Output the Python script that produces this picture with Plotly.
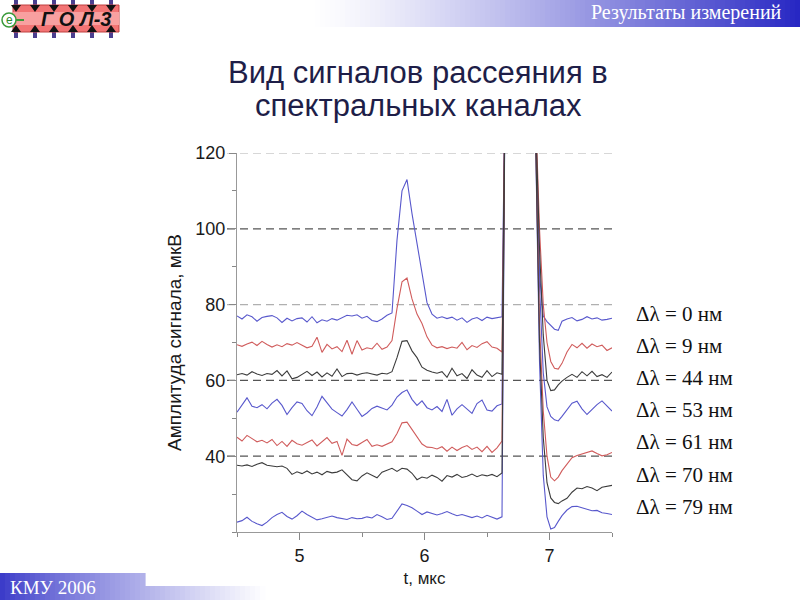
import plotly.graph_objects as go

# ---------------- data ----------------
T = [4.50, 4.54, 4.58, 4.62, 4.66, 4.70, 4.74, 4.78, 4.82, 4.86,
     4.90, 4.94, 4.98, 5.02, 5.06, 5.10, 5.14, 5.18, 5.22, 5.26,
     5.30, 5.34, 5.38, 5.42, 5.46, 5.50, 5.54, 5.58, 5.62, 5.66,
     5.70, 5.74, 5.78, 5.82, 5.86, 5.90, 5.94, 5.98, 6.02, 6.06,
     6.10, 6.14, 6.18, 6.22, 6.26, 6.30, 6.34, 6.38, 6.42, 6.46,
     6.50, 6.54, 6.58,
     6.62, 6.645, 6.88,
     6.92, 6.95, 6.98, 7.01, 7.04, 7.07, 7.10, 7.14, 7.18, 7.22,
     7.26, 7.30, 7.34, 7.38, 7.42, 7.46, 7.50]

S_0 = [77.0, 76.2, 77.3, 76.8, 75.6, 76.6, 76.9, 77.1, 76.5, 75.3,
       76.4, 75.7, 76.3, 76.5, 75.4, 76.8, 75.2, 76.0, 75.6, 76.3,
       75.9, 76.6, 77.2, 77.0, 77.3, 76.4, 76.9, 75.8, 75.5, 76.2,
       77.2, 77.8, 97.0, 110.0, 113.0, 104.0, 96.0, 88.0, 80.5, 77.5,
       76.4, 76.8, 76.3, 76.7, 75.9, 76.5, 75.3, 76.2, 76.6, 75.8,
       76.7, 76.3, 76.5,
       76.8, 140, 140,
       88, 77, 75.5, 74.5, 73.5, 73.2, 75.6, 76.2, 76.6, 75.7,
       76.1, 76.8, 76.2, 76.5, 75.9, 76.1, 76.4]

S_9 = [69.4, 69.0, 69.6, 70.1, 69.2, 70.3, 69.5, 68.8, 69.4, 68.9,
       69.7, 69.3, 70.0, 69.2, 68.6, 69.0, 71.4, 67.4, 69.5, 68.3,
       68.9, 67.6, 70.6, 66.9, 70.5, 68.0, 68.6, 68.3, 69.8, 68.2,
       68.8, 70.5, 79.0, 86.0, 87.0, 81.5, 77.5, 75.0, 71.5, 69.3,
       68.6, 68.9, 68.4, 68.8, 68.5, 70.0, 68.1, 69.2, 68.7, 69.7,
       70.2, 68.8, 68.5,
       67.5, 140, 140,
       100, 80, 70, 65, 63.2, 63.0, 64.5, 67.5, 69.5, 68.6,
       69.8, 68.5, 69.6, 68.9, 69.3, 67.9, 68.6]

S_44 = [61.5, 61.8, 61.4, 62.3, 61.7, 61.3, 61.8, 61.6, 62.6, 61.2,
        62.5, 60.4, 60.8, 61.6, 62.4, 61.3, 62.2, 60.9, 62.0, 61.1,
        63.0, 61.0, 61.8, 61.9, 61.4, 61.8, 62.0, 61.7, 61.4, 61.9,
        61.7, 62.3, 66.0, 70.3, 70.5, 67.8, 66.0, 63.5, 62.7, 62.2,
        61.9, 62.3, 60.8, 63.2, 61.2, 61.8, 60.5, 62.8, 61.4, 60.8,
        62.6, 61.0, 62.0,
        61.6, 140, 140,
        95, 72, 60, 57.3, 57.5, 58.8, 59.8, 60.8, 61.6, 60.8,
        62.3, 61.2, 62.4, 61.0, 61.5, 60.8, 62.2]

S_53 = [51.6, 53.5, 55.4, 53.2, 52.8, 53.6, 52.5, 54.0, 55.0, 53.4,
        51.0, 52.8, 54.3, 53.9, 52.0, 50.7, 53.0, 55.8, 54.2, 52.4,
        51.5, 50.6, 52.3, 54.3, 52.4, 50.5, 51.4, 52.6, 53.2, 52.7,
        52.2, 53.5, 55.6, 56.8, 57.5, 55.0, 53.4, 54.6, 52.8, 52.2,
        53.1, 51.8, 55.0, 50.8, 52.5, 53.6, 52.4, 51.3, 53.9, 54.8,
        52.2, 51.9, 53.3,
        53.8, 140, 140,
        85, 62, 53, 50.5, 49.6, 49.3, 50.5, 52.3, 54.0, 54.5,
        52.5, 51.0, 52.3, 53.6, 54.6, 53.2, 51.9]

S_61 = [45.0, 44.0, 45.5, 44.6, 43.8, 44.2, 43.5, 44.4, 42.8, 43.9,
        42.6, 44.2, 43.3, 42.9, 43.6, 44.3, 42.7, 43.8, 44.9, 43.4,
        43.9, 40.2, 44.5, 43.1, 42.8, 43.6, 44.4, 42.6, 43.0, 42.6,
        43.3, 43.8, 46.0, 48.8, 49.0, 47.0, 45.0, 43.2, 42.4, 42.3,
        41.9, 42.5, 41.3, 42.4, 41.5, 42.3, 42.8, 41.8, 42.4, 41.2,
        42.6, 41.0, 42.2,
        44.0, 140, 140,
        75, 52, 40, 34.5, 33.5, 34.5, 36.2, 38.0, 39.6, 40.2,
        40.6, 41.2, 41.4, 40.7, 40.1, 40.4, 41.0]

S_70 = [37.6, 37.4, 37.7, 37.3, 37.9, 38.3, 37.6, 37.5, 37.2, 37.4,
        36.8, 35.2, 35.9, 35.4, 36.1, 35.3, 35.8, 35.1, 36.0, 35.6,
        35.8, 36.4, 35.2, 33.8, 33.5, 34.8, 35.6, 35.0, 34.3, 35.8,
        36.2, 36.8, 36.0, 36.8, 36.6, 35.5, 33.8, 34.5, 34.2, 35.0,
        34.4, 33.4, 34.9, 34.5, 35.2, 34.4, 34.7, 35.3, 34.6, 35.1,
        34.8, 35.2, 34.6,
        35.6, 140, 140,
        70, 45, 33, 29, 27.8, 27.5, 28.2, 28.9, 30.5, 31.6,
        31.4, 32.0, 31.6, 30.9, 31.8, 32.0, 32.3]

S_79 = [22.6, 23.0, 23.9, 22.8, 22.2, 21.7, 22.6, 23.8, 24.6, 25.2,
        24.1, 23.4, 24.3, 25.5, 24.6, 23.8, 23.2, 23.5, 23.9, 24.2,
        23.8, 23.5, 23.3, 23.8, 23.5, 23.6, 24.0, 23.7, 24.6, 24.0,
        23.3, 23.6, 25.5, 27.4, 27.0, 26.4, 25.5, 24.6, 25.3, 24.8,
        24.5, 24.9, 25.4, 24.8, 24.3, 24.6, 24.1, 23.8, 24.2, 23.7,
        24.4, 23.8, 23.4,
        24.0, 140, 140,
        65, 35, 24, 20.8, 21.2, 22.8, 24.3, 25.8, 26.7, 26.8,
        26.4, 26.0, 25.6, 25.7, 25.1, 24.9, 24.6]

SERIES = [S_0, S_9, S_44, S_53, S_61, S_70, S_79]
LEGEND_LABELS = ["Δλ = 0 нм", "Δλ = 9 нм", "Δλ = 44 нм", "Δλ = 53 нм",
                 "Δλ = 61 нм", "Δλ = 70 нм", "Δλ = 79 нм"]
X_TICKS = [5, 6, 7]
Y_TICKS = [40, 60, 80, 100, 120]
REF_LEVELS = [120, 100, 80, 60, 40]

TITLE_LINES = ["Вид сигналов рассеяния в", "спектральных каналах"]
X_TITLE = "t, мкс"
Y_TITLE = "Амплитуда сигнала, мкВ"
HEADER = "Результаты измерений"
FOOTER = "КМУ 2006"
LOGO = "Г О Л-3"

# ---------------- styles ----------------
BLUE = "rgb(88,88,204)"
RED = "rgb(208,92,92)"
BLACK = "rgb(60,60,60)"
COLORS = [BLUE, RED, BLACK, BLUE, RED, BLACK, BLUE]
REF_COLORS = ["#b0b0b0", "#555555", "#b0b0b0", "#555555", "#555555"]

W, H = 800, 600
ML, MR, MT, MB = 237, 188, 153, 68
PW, PH = W - ML - MR, H - MT - MB


def fx(px):
    return (px - ML) / PW


def fy(py):
    return (H - MB - py) / PH


fig = go.Figure()
draw_order = [0, 3, 6, 1, 4, 2, 5]
for i in draw_order:
    fig.add_trace(go.Scatter(x=T, y=SERIES[i], mode="lines",
                             line=dict(color=COLORS[i], width=1.1),
                             showlegend=False, hoverinfo="skip"))

shapes = []
for lv, c in zip(REF_LEVELS, REF_COLORS):
    shapes.append(dict(type="line", xref="paper", yref="y", x0=fx(227), x1=1.0,
                       y0=lv, y1=lv, layer="below",
                       line=dict(color=c, width=1.2, dash="8px,5px")))


def lerp(c1, c2, t):
    return "rgb(%d,%d,%d)" % tuple(round(a + (b - a) * t) for a, b in zip(c1, c2))


# header gradient band
hx0, hx1, steps = 310, 800, 98
for k in range(steps):
    a = hx0 + (hx1 - hx0) * k / steps
    b = hx0 + (hx1 - hx0) * (k + 1) / steps + 0.6
    t = ((k + 0.5) / steps) ** 1.3
    shapes.append(dict(type="rect", xref="paper", yref="paper",
                       x0=fx(a), x1=fx(b), y0=fy(27), y1=fy(0),
                       fillcolor=lerp((255, 255, 255), (38, 38, 195), t),
                       line=dict(width=0), layer="below"))

# footer gradient
fx0, fx1, fsteps = 0, 265, 53
for k in range(fsteps):
    a = fx0 + (fx1 - fx0) * k / fsteps
    b = fx0 + (fx1 - fx0) * (k + 1) / fsteps + 0.6
    t = ((k + 0.5) / fsteps) ** 0.8
    col = lerp((55, 55, 200), (255, 255, 255), t)
    top = 573 if b <= 147.6 else 586
    shapes.append(dict(type="rect", xref="paper", yref="paper",
                       x0=fx(a), x1=fx(b), y0=fy(600), y1=fy(top),
                       fillcolor=col, line=dict(width=0), layer="below"))

# logo
pins = [16, 35, 54, 73, 92, 111]
for p in pins:
    for (ya, yb) in [(0, 7), (31, 38)]:
        shapes.append(dict(type="rect", xref="paper", yref="paper",
                           x0=fx(p - 2), x1=fx(p + 2), y0=fy(yb), y1=fy(ya),
                           fillcolor="#4b3f8f", line=dict(width=0)))
shapes.append(dict(type="rect", xref="paper", yref="paper",
                   x0=fx(13), x1=fx(119), y0=fy(32), y1=fy(5),
                   fillcolor="#f27474", line=dict(color="#c04040", width=1)))
shapes.append(dict(type="rect", xref="paper", yref="paper",
                   x0=fx(13), x1=fx(119), y0=fy(25), y1=fy(12),
                   fillcolor="#f8a0a0", line=dict(width=0)))
for p in pins:
    top = "M %f %f L %f %f L %f %f Z" % (fx(p - 5), fy(5), fx(p + 5), fy(5), fx(p), fy(12))
    bot = "M %f %f L %f %f L %f %f Z" % (fx(p - 5), fy(32), fx(p + 5), fy(32), fx(p), fy(25))
    for path in (top, bot):
        shapes.append(dict(type="path", xref="paper", yref="paper", path=path,
                           fillcolor="#111111", line=dict(width=0)))
shapes.append(dict(type="circle", xref="paper", yref="paper",
                   x0=fx(2), x1=fx(16), y0=fy(27), y1=fy(13),
                   fillcolor="white", line=dict(color="#3a9a3a", width=1.5)))
shapes.append(dict(type="line", xref="paper", yref="paper",
                   x0=fx(16), x1=fx(24), y0=fy(20), y1=fy(20),
                   line=dict(color="#3a9a3a", width=2)))

annotations = []
for i, lab in enumerate(LEGEND_LABELS):
    annotations.append(dict(text=lab, xref="paper", yref="paper",
                            x=fx(634), y=fy(314 + 32.1 * i), xanchor="left",
                            yanchor="middle", showarrow=False,
                            font=dict(family="Liberation Serif", size=21, color="#111")))
for j, line in enumerate(TITLE_LINES):
    annotations.append(dict(text=line, xref="paper", yref="paper",
                            x=fx(418), y=fy(72 + 34 * j), xanchor="center",
                            yanchor="middle", showarrow=False,
                            font=dict(family="Liberation Sans", size=31, color="#1e1e48")))
annotations.append(dict(text=HEADER, xref="paper", yref="paper", x=fx(784), y=fy(13),
                        xanchor="right", yanchor="middle", showarrow=False,
                        font=dict(family="Liberation Serif", size=20, color="white")))
annotations.append(dict(text=FOOTER, xref="paper", yref="paper", x=fx(8), y=fy(587),
                        xanchor="left", yanchor="middle", showarrow=False,
                        font=dict(family="Liberation Serif", size=19, color="white")))
annotations.append(dict(text="<b><i>" + LOGO + "</i></b>", xref="paper", yref="paper",
                        x=fx(76), y=fy(19), xanchor="center", yanchor="middle",
                        showarrow=False,
                        font=dict(family="Liberation Sans", size=20, color="#111")))
annotations.append(dict(text="e", xref="paper", yref="paper",
                        x=fx(9), y=fy(19.5), xanchor="center", yanchor="middle",
                        showarrow=False,
                        font=dict(family="Liberation Sans", size=12, color="#2e8b2e")))

axis_font = dict(family="Liberation Sans", size=18, color="#1a1a1a")
fig.update_layout(
    width=W, height=H,
    margin=dict(l=ML, r=MR, t=MT, b=MB),
    paper_bgcolor="white", plot_bgcolor="white",
    xaxis=dict(range=[4.5, 7.5], tickvals=X_TICKS, ticks="outside", ticklen=7,
               tickcolor="#888", showline=True, linecolor="#999", linewidth=1,
               showgrid=False, zeroline=False, tickfont=axis_font,
               minor=dict(tickvals=[4.5, 5.5, 6.5, 7.5], ticks="outside", ticklen=4,
                          tickcolor="#888", showgrid=False),
               title=dict(text=X_TITLE, standoff=7,
                          font=dict(family="Liberation Sans", size=17, color="#1a1a1a"))),
    yaxis=dict(range=[20, 120], tickvals=Y_TICKS, ticks="outside", ticklen=7,
               tickcolor="#888", showline=True, linecolor="#999", linewidth=1,
               showgrid=False, zeroline=False, tickfont=axis_font,
               minor=dict(dtick=10, tick0=0, ticks="outside", ticklen=4,
                          tickcolor="#888", showgrid=False),
               title=dict(text=Y_TITLE, standoff=8,
                          font=dict(family="Liberation Sans", size=19, color="#1a1a1a"))),
    shapes=shapes, annotations=annotations,
)

fig.write_html("out.html", config={"displayModeBar": False},
               post_script="document.body.style.margin='0px';")
